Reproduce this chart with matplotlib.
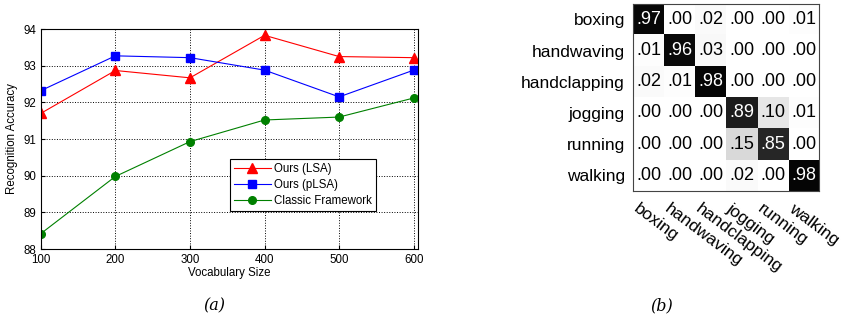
import matplotlib
matplotlib.use("Agg")
import matplotlib.pyplot as plt
import numpy as np

plt.rcParams['font.family'] = ['Liberation Sans', 'DejaVu Sans']

# (a) recognition accuracy vs vocabulary size
vocab = [100, 200, 300, 400, 500, 600]
acc_lsa = [91.70, 92.87, 92.67, 93.83, 93.25, 93.22]
acc_plsa = [92.32, 93.27, 93.22, 92.88, 92.15, 92.88]
acc_classic = [88.42, 89.98, 90.93, 91.52, 91.60, 92.12]

# (b) confusion matrix
actions = ["boxing", "handwaving", "handclapping", "jogging", "running", "walking"]
conf = np.array([
    [.97, .00, .02, .00, .00, .01],
    [.01, .96, .03, .00, .00, .00],
    [.02, .01, .98, .00, .00, .00],
    [.00, .00, .00, .89, .10, .01],
    [.00, .00, .00, .15, .85, .00],
    [.00, .00, .00, .02, .00, .98],
])

fig = plt.figure(figsize=(8.5, 3.23), dpi=100)

ax = fig.add_axes([0.048, 0.229, 0.444, 0.681])
ax.plot(vocab, acc_lsa, color='red', marker='^', markersize=7, lw=0.8, label='Ours (LSA)')
ax.plot(vocab, acc_plsa, color='blue', marker='s', markersize=6, lw=0.8, label='Ours (pLSA)')
ax.plot(vocab, acc_classic, color='#008000', marker='o', markersize=5.5, lw=0.8,
        label='Classic Framework')
ax.set_xlim(100, 606)
ax.set_ylim(88, 94)
ax.set_xticks(vocab)
ax.set_yticks(range(88, 95))
ax.grid(True, linestyle=':', color='black', linewidth=0.7)
ax.tick_params(labelsize=8.3, direction='in', length=3)
ax.tick_params(axis='y', pad=3)
ax.tick_params(axis='x', pad=3.5)
ax.set_xlabel('Vocabulary Size', fontsize=8.3, labelpad=1)
ax.set_ylabel('Recognition Accuracy', fontsize=8.3, labelpad=4)
leg = ax.legend(loc='lower right', bbox_to_anchor=(0.889, 0.173), fontsize=8.3, fancybox=False,
                framealpha=1, edgecolor='black', handlelength=3.2, borderpad=0.35,
                labelspacing=0.35, handletextpad=0.3, borderaxespad=0)
leg.get_frame().set_linewidth(0.8)

ax2 = fig.add_axes([0.745, 0.409, 0.219, 0.579])
ax2.imshow(conf, cmap='gray_r', vmin=0, vmax=1, aspect='auto')
for i in range(len(actions)):
    for j in range(len(actions)):
        v = conf[i, j]
        ax2.text(j, i, ('%.2f' % v)[1:], ha='center', va='center', fontsize=13,
                 color='white' if v > 0.5 else 'black')
ax2.set_yticks(range(len(actions)))
ax2.set_yticklabels(actions, fontsize=12.5)
ax2.set_xticks(np.arange(len(actions)) - 0.3)
ax2.set_xticklabels(actions, fontsize=12.5, rotation=-37, ha='left', va='top',
                    rotation_mode='anchor')
ax2.tick_params(length=0)
ax2.tick_params(axis='y', pad=6)
ax2.tick_params(axis='x', pad=7)
for s in ax2.spines.values():
    s.set_linewidth(0.8)
    s.set_color('#444444')

fig.text(0.252, 0.04, '(a)', fontsize=11.5, style='italic', family='DejaVu Serif', ha='center')
fig.text(0.778, 0.04, '(b)', fontsize=11.5, style='italic', family='DejaVu Serif', ha='center')

fig.savefig('out.png', dpi=100)
